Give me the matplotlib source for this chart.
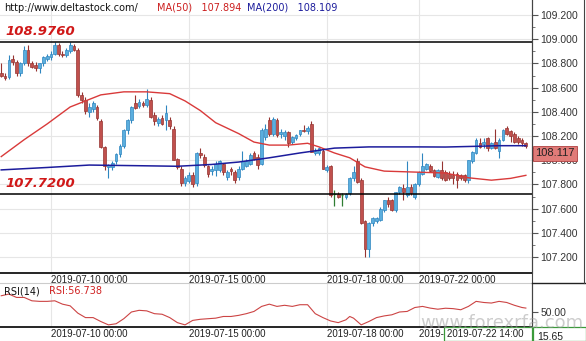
import matplotlib.pyplot as plt
from matplotlib.patches import Rectangle
from matplotlib.lines import Line2D

plt.rcParams['font.family'] = ['DejaVu Sans']

# USD/JPY, 2-hour candles from 2019-07-08 22:00 to 2019-07-24 08:00
opens = [108.72, 108.70, 108.69, 108.84, 108.81, 108.72, 108.80, 108.91, 108.80, 108.79,
         108.76, 108.80, 108.84, 108.85, 108.88, 108.95, 108.88, 108.87, 108.90, 108.94,
         108.91, 108.54, 108.50, 108.40, 108.42, 108.44, 108.32, 108.11, 107.94, 107.94,
         107.99, 108.05, 108.12, 108.25, 108.33, 108.47, 108.45, 108.47, 108.46, 108.50,
         108.37, 108.31, 108.35, 108.33, 108.33, 108.26, 108.01, 107.93, 107.81, 107.83,
         107.88, 107.81, 108.06, 108.03, 107.95, 107.91, 107.92, 107.92, 107.97, 107.86,
         107.93, 107.90, 107.86, 107.93, 107.95, 107.97, 108.06, 108.03, 107.97, 108.19,
         108.33, 108.22, 108.33, 108.22, 108.20, 108.23, 108.15, 108.18, 108.22, 108.25,
         108.24, 108.30, 108.06, 108.06, 108.08, 107.92, 107.95, 107.72, 107.72, 107.71,
         107.70, 107.73, 107.85, 107.99, 107.84, 107.50, 107.27, 107.48, 107.50, 107.51,
         107.59, 107.67, 107.67, 107.59, 107.74, 107.77, 107.71, 107.78, 107.70, 107.80,
         107.89, 107.93, 107.95, 107.92, 107.86, 107.92, 107.90, 107.89, 107.88, 107.89,
         107.88, 107.88, 107.84, 107.99, 108.06, 108.14, 108.13, 108.18, 108.10, 108.15,
         108.08, 108.17, 108.27, 108.24, 108.22, 108.18, 108.17, 108.14]
highs = [108.80, 108.72, 108.87, 108.87, 108.83, 108.81, 108.94, 108.95, 108.82, 108.81,
         108.80, 108.86, 108.88, 108.90, 108.98, 108.97, 108.90, 108.93, 108.976, 108.96,
         108.93, 108.56, 108.52, 108.47, 108.49, 108.46, 108.34, 108.12, 107.97, 107.99,
         108.06, 108.13, 108.26, 108.34, 108.45, 108.54, 108.51, 108.49, 108.59, 108.52,
         108.40, 108.36, 108.37, 108.46, 108.36, 108.28, 108.02, 107.95, 107.87, 107.905,
         107.90, 108.07, 108.10, 108.05, 107.96, 107.95, 107.99, 108.00, 107.98, 107.92,
         107.94, 107.92, 107.95, 108.08, 108.01, 108.06, 108.08, 108.05, 108.27, 108.30,
         108.36, 108.36, 108.35, 108.26, 108.25, 108.24, 108.20, 108.22, 108.25, 108.29,
         108.28, 108.32, 108.10, 108.11, 108.10, 107.96, 107.96, 107.75, 107.74, 107.73,
         107.73, 107.86, 107.95, 108.02, 107.85, 107.51, 107.49, 107.53, 107.53, 107.61,
         107.67, 107.70, 107.68, 107.74, 107.79, 107.80, 107.99, 107.80, 107.81, 107.91,
         108.06, 107.98, 107.97, 107.93, 107.93, 107.99, 107.92, 107.91, 107.91, 107.90,
         107.89, 107.89, 108.00, 108.08, 108.18, 108.18, 108.18, 108.19, 108.15, 108.26,
         108.18, 108.26, 108.28, 108.25, 108.23, 108.20, 108.18, 108.15]
lows = [108.69, 108.66, 108.67, 108.79, 108.70, 108.70, 108.79, 108.78, 108.76, 108.74,
        108.72, 108.78, 108.82, 108.83, 108.87, 108.86, 108.85, 108.85, 108.89, 108.90,
        108.52, 108.47, 108.38, 108.36, 108.40, 108.33, 108.10, 107.92, 107.85, 107.92,
        107.97, 108.03, 108.10, 108.22, 108.31, 108.42, 108.43, 108.44, 108.44, 108.35,
        108.29, 108.28, 108.29, 108.25, 108.26, 108.00, 107.93, 107.79, 107.79, 107.81,
        107.78, 107.79, 108.02, 107.94, 107.86, 107.88, 107.87, 107.90, 107.88, 107.84,
        107.88, 107.81, 107.84, 107.92, 107.94, 107.96, 108.00, 107.93, 107.96, 108.17,
        108.20, 108.20, 108.19, 108.18, 108.17, 108.11, 108.13, 108.17, 108.20, 108.23,
        108.22, 108.07, 108.04, 108.04, 107.93, 107.90, 107.70, 107.62, 107.69, 107.62,
        107.68, 107.71, 107.83, 107.81, 107.47, 107.20, 107.20, 107.46, 107.48, 107.50,
        107.57, 107.61, 107.58, 107.57, 107.72, 107.67, 107.70, 107.71, 107.68, 107.79,
        107.88, 107.92, 107.90, 107.86, 107.85, 107.84, 107.83, 107.84, 107.80, 107.77,
        107.84, 107.82, 107.81, 107.98, 108.05, 108.10, 108.10, 108.08, 108.09, 108.09,
        108.02, 108.16, 108.21, 108.15, 108.14, 108.13, 108.12, 108.10]
closes = [108.70, 108.68, 108.83, 108.81, 108.72, 108.80, 108.91, 108.80, 108.77, 108.76,
          108.80, 108.85, 108.86, 108.88, 108.95, 108.88, 108.87, 108.91, 108.95, 108.91,
          108.54, 108.50, 108.41, 108.44, 108.47, 108.35, 108.11, 107.95, 107.96, 107.98,
          108.05, 108.12, 108.25, 108.33, 108.44, 108.43, 108.48, 108.46, 108.51, 108.36,
          108.32, 108.34, 108.30, 108.39, 108.28, 108.00, 107.94, 107.81, 107.85, 107.88,
          107.80, 108.06, 108.04, 107.96, 107.89, 107.93, 107.97, 107.99, 107.90, 107.905,
          107.91, 107.84, 107.93, 107.99, 107.99, 108.04, 108.01, 107.96, 108.25, 108.26,
          108.22, 108.34, 108.21, 108.23, 108.23, 108.14, 108.19, 108.21, 108.25, 108.24,
          108.27, 108.07, 108.08, 108.10, 107.93, 107.94, 107.71, 107.72, 107.70, 107.71,
          107.72, 107.85, 107.90, 107.82, 107.48, 107.27, 107.48, 107.52, 107.52, 107.60,
          107.67, 107.64, 107.59, 107.74, 107.78, 107.74, 107.78, 107.73, 107.80, 107.90,
          107.95, 107.97, 107.91, 107.87, 107.92, 107.85, 107.84, 107.85, 107.85, 107.84,
          107.85, 107.84, 108.00, 108.07, 108.17, 108.11, 108.15, 108.10, 108.14, 108.10,
          108.17, 108.25, 108.22, 108.20, 108.15, 108.15, 108.14, 108.117]

# moving averages, sampled along the series
ma50_idx = [0, 6, 12, 18, 22, 26, 32, 38, 44, 48, 52, 56, 62, 66, 70, 75, 80, 83, 87, 91,
            95, 100, 105, 110, 116, 122, 128, 133, 137]
ma50_val = [108.03, 108.17, 108.30, 108.44, 108.49, 108.54, 108.565, 108.565, 108.55, 108.49,
            108.41, 108.31, 108.22, 108.15, 108.125, 108.125, 108.14, 108.11, 108.06, 108.02,
            107.945, 107.91, 107.905, 107.90, 107.894, 107.855, 107.835, 107.85, 107.875]
ma200_idx = [0, 12, 23, 35, 46, 55, 62, 70, 78, 87, 96, 109, 116, 124, 130, 137]
ma200_val = [107.92, 107.94, 107.96, 107.955, 107.95, 107.965, 107.985, 108.02, 108.06, 108.10,
             108.11, 108.11, 108.109, 108.115, 108.12, 108.12]

rsi_idx = [0, 2, 4, 6, 8, 10, 12, 14, 16, 18, 20, 22, 24, 26, 28, 30, 32, 34, 36, 38,
           40, 42, 44, 46, 48, 50, 52, 54, 56, 58, 60, 62, 64, 66, 68, 70, 72, 74, 76, 78,
           80, 82, 84, 86, 88, 90, 91, 92, 94, 96, 98, 100, 102, 104, 106, 108, 110, 112, 114, 116,
           118, 120, 122, 124, 126, 128, 130, 132, 134, 136, 137]
rsi_val = [79, 82, 76, 76, 70, 69, 69, 70, 64, 61, 48, 40, 40, 33, 27, 29, 38, 50, 53, 52,
           47, 46, 40, 31, 27, 35, 37, 38, 39, 42, 42, 44, 47, 51, 60, 64, 60, 62, 60, 63,
           63, 47, 40, 34, 31, 36, 42, 39, 27, 33, 40, 43, 45, 50, 51, 58, 60, 57, 55, 56.738,
           56, 54, 60, 69, 67, 66, 69, 67, 62, 58, 57]

date_idx = [13, 49, 85, 109]
date_labels = ['2019-07-10 00:00', '2019-07-15 00:00', '2019-07-18 00:00', '2019-07-22 00:00']
price_ticks = [107.2, 107.4, 107.6, 107.8, 108.0, 108.2, 108.4, 108.6, 108.8, 109.0, 109.2]

high_level = 108.976
low_level = 107.72
last_price = closes[-1]

W, H = 586, 341
fig = plt.figure(figsize=(W / 100, H / 100), dpi=100)


def box(x0, y0, x1, y1):
    return [x0 / W, 1 - y1 / H, (x1 - x0) / W, (y1 - y0) / H]


ax = fig.add_axes(box(0, 0, 532, 273))
rsi = fig.add_axes(box(0, 283, 532, 327), sharex=ax)

UP, UP_EDGE = '#5aaede', '#2f86c0'
DOWN, DOWN_EDGE = '#c0504d', '#963431'
DOJI = '#2e7d32'

for i, (o, h, l, c) in enumerate(zip(opens, highs, lows, closes)):
    if abs(c - o) < 0.001:
        ax.vlines(i, l, h, color=DOJI, lw=0.9, zorder=3)
        ax.hlines(c, i - 0.35, i + 0.35, color=DOJI, lw=0.9, zorder=3)
        continue
    fc, ec = (UP, UP_EDGE) if c > o else (DOWN, DOWN_EDGE)
    ax.vlines(i, l, h, color=ec, lw=0.8, zorder=3)
    ax.bar(i, max(abs(c - o), 0.006), bottom=min(o, c), width=0.72,
           color=fc, edgecolor=ec, linewidth=0.5, zorder=4)

ax.plot(ma50_idx, ma50_val, color='#d93a3a', lw=1.0, zorder=5)
ax.plot(ma200_idx, ma200_val, color='#1c1c9c', lw=1.1, zorder=5)

for level in (high_level, low_level):
    ax.axhline(level, color='black', lw=1.1, zorder=6)
    ax.annotate(f'{level:.4f}', xy=(0, level), xycoords=('axes fraction', 'data'),
                xytext=(5, 4), textcoords='offset pixels', ha='left', va='bottom',
                color='#d01818', fontsize=9.5, fontweight='bold', fontstyle='italic')

ax.set_xlim(-0.32, 138.6)
ax.set_ylim(107.068, 109.324)
ax.yaxis.tick_right()
ax.set_yticks(price_ticks, [f'{t:.3f}' for t in price_ticks])
ax.set_yticks([t + 0.1 for t in price_ticks[:-1]], minor=True)
ax.tick_params(axis='y', which='major', direction='out', length=4, width=0.8, color='#555555',
               labelsize=7.5, labelcolor='#333333', pad=2)
ax.tick_params(axis='y', which='minor', direction='out', length=2, width=0.7, color='#777777')
for lab in ax.get_yticklabels():
    lab.set_fontfamily('Liberation Sans')

ax.set_xticks(date_idx, date_labels)
ax.tick_params(axis='x', length=0, pad=1.5, labelsize=7, labelcolor='#222222')
for lab in ax.get_xticklabels():
    lab.set_ha('left')
    lab.set_fontfamily('Liberation Sans')

ax.grid(True, color='#e6e6e6', lw=0.8, zorder=0)
ax.set_axisbelow(True)
for side in ('top', 'left'):
    ax.spines[side].set_visible(False)
ax.spines['right'].set_color('#444444')
ax.spines['bottom'].set_color('black')
ax.spines['bottom'].set_linewidth(1.2)

ax.annotate(f'{last_price:.3f}', xy=(1, last_price), xycoords=('axes fraction', 'data'),
            xytext=(3, -2), textcoords='offset pixels', ha='left', va='top',
            fontsize=8, family='Liberation Sans', color='#222222', zorder=10,
            bbox=dict(boxstyle='square,pad=0.22', fc='#e07b78', ec='#b04040', lw=0.6),
            annotation_clip=False)

# RSI pane
rsi.plot(rsi_idx, rsi_val, color='#cc4444', lw=0.8)
rsi.set_ylim(23.2, 101.8)
rsi.yaxis.tick_right()
rsi.set_yticks([50], ['50.00'])
rsi.tick_params(axis='y', direction='out', length=4, width=0.8, color='#555555',
                labelsize=7.5, labelcolor='#333333', pad=2)
for lab in rsi.get_yticklabels():
    lab.set_fontfamily('Liberation Sans')
rsi.tick_params(axis='x', length=0, pad=1.5, labelsize=7, labelcolor='#222222')
for lab in rsi.get_xticklabels():
    lab.set_ha('left')
    lab.set_fontfamily('Liberation Sans')
rsi.grid(True, axis='x', color='#e6e6e6', lw=0.8)
rsi.spines['left'].set_visible(False)
rsi.spines['top'].set_color('#cccccc')
rsi.spines['right'].set_color('#444444')
rsi.spines['bottom'].set_color('black')
rsi.spines['bottom'].set_linewidth(1.2)
rsi.text(4 / 532, 0.93, 'RSI(14)', transform=rsi.transAxes, fontsize=7, va='top', color='#111111')
rsi.text(49 / 532, 0.93, f'RSI:{rsi_val[rsi_idx.index(116)]:.3f}', transform=rsi.transAxes,
         fontsize=7, va='top', color='#d02020')

# header
fig.text(4 / W, 1 - 8 / H, 'http://www.deltastock.com/', fontsize=7, va='center', color='#111111')
fig.text(157 / W, 1 - 8 / H, f'MA(50)   {ma50_val[ma50_idx.index(116)]:.3f}', fontsize=7,
         va='center', color='#cc1f1f')
fig.text(247 / W, 1 - 8 / H, f'MA(200)   {ma200_val[ma200_idx.index(116)]:.3f}', fontsize=7,
         va='center', color='#1c1c9c')

# frame lines around the price scale
fig.add_artist(Line2D([532 / W, 532 / W], [1, 1 - 327 / H], color='#444444', lw=0.8))
fig.add_artist(Line2D([532 / W, 1], [1 - 283 / H, 1 - 283 / H], color='#222222', lw=1.0))
fig.add_artist(Line2D([584 / W, 584 / W], [1, 1 - 283 / H], color='#444444', lw=0.8))

# crosshair readouts along the bottom
fig.add_artist(Rectangle((444 / W, 0), 88 / W, 14 / H, facecolor='white', edgecolor='#3a9a3a',
                         lw=0.9, transform=fig.transFigure, zorder=20))
fig.text(447 / W, 7 / H, '2019-07-22 14:00', fontsize=7, family='Liberation Sans',
         va='center', color='#222222', zorder=21)
fig.add_artist(Rectangle((533 / W, 0), 53 / W, 14 / H, facecolor='white', edgecolor='#3a9a3a',
                         lw=0.9, transform=fig.transFigure, zorder=20))
fig.text(537 / W, 4 / H, '15.65', fontsize=7.5, family='Liberation Sans',
         va='center', color='#222222', zorder=21)

fig.text(502 / W, 18 / H, 'www.forexrfa.com', fontsize=13, ha='center', va='center',
         color='#9a9a9a', alpha=0.5, zorder=22)

fig.savefig('out.png', dpi=100, facecolor='white')
